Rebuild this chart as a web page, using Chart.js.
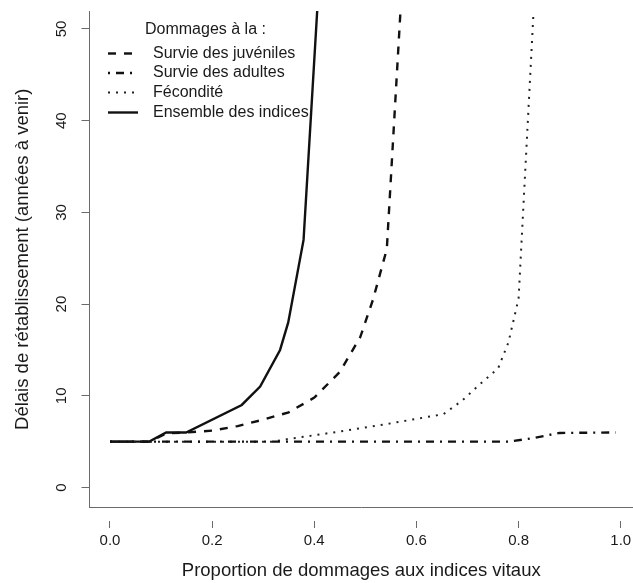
<!DOCTYPE html>
<html>
<head>
<meta charset="utf-8">
<script src="https://cdn.jsdelivr.net/npm/chart.js@4"></script>
<style>
  html, body { margin: 0; padding: 0; background: #fff; }
  #wrap { width: 633px; height: 583px; }
</style>
</head>
<body>
<div id="wrap"><canvas id="myChart"></canvas></div>
<script>
// tick labels
const xTicks = [0, 0.2, 0.4, 0.6, 0.8, 1.0];
const yTicks = [0, 10, 20, 30, 40, 50];

const legendTitle = 'Dommages à la :';
const seriesNames = ['Survie des juvéniles', 'Survie des adultes', 'Fécondité', 'Ensemble des indices'];

// series values
const juvX = [0, 0.077, 0.11, 0.15, 0.2, 0.25, 0.3, 0.35, 0.4, 0.45, 0.49, 0.515, 0.542, 0.575];
const juvY = [5, 5, 5.9, 6, 6.2, 6.7, 7.4, 8.2, 9.8, 12.6, 16.4, 20.5, 26, 58];

const adX = [0, 0.78, 0.83, 0.88, 0.99];
const adY = [5, 5, 5.4, 5.95, 6];

const fecX = [0, 0.32, 0.35, 0.45, 0.55, 0.653, 0.69, 0.725, 0.76, 0.78, 0.8, 0.835];
const fecY = [5, 5, 5.3, 6.1, 7.0, 8.0, 9.5, 11.3, 13, 15.8, 20.6, 58];

const allX = [0, 0.077, 0.11, 0.149, 0.258, 0.294, 0.333, 0.349, 0.379, 0.41];
const allY = [5, 5, 6, 6, 9, 11, 15, 18, 27, 56];

function pts(xs, ys) {
    return xs.map((x, i) => ({ x: x, y: ys[i] }));
}

const FONT = '"Liberation Sans", Arial, sans-serif';
const INK = '#1a1a1a';
const AXIS = '#6a6a6a';

Chart.defaults.font.family = FONT;
Chart.defaults.color = INK;

// R style legend drawn inside the plot
const legendPlugin = {
    id: 'rLegend',
    afterDraw(chart) {
        const ctx = chart.ctx;
        ctx.save();
        ctx.font = '16px ' + FONT;
        ctx.fillStyle = INK;
        ctx.textBaseline = 'middle';
        ctx.fillText(legendTitle, 145, 30);
        const rows = [53.5, 73, 92.5, 112.5];
        chart.data.datasets.forEach((ds, i) => {
            const y = rows[i];
            ctx.beginPath();
            ctx.setLineDash(ds.borderDash || []);
            ctx.lineWidth = ds.borderWidth;
            ctx.strokeStyle = ds.borderColor;
            ctx.moveTo(108, y);
            ctx.lineTo(138, y);
            ctx.stroke();
            ctx.setLineDash([]);
            ctx.fillText(ds.label, 153, y);
        });
        ctx.restore();
    }
};

const ctx = document.getElementById('myChart');

new Chart(ctx, {
    type: 'line',
    data: {
        datasets: [
            { label: seriesNames[0], data: pts(juvX, juvY), borderColor: '#111', borderWidth: 2.4, borderDash: [8, 8] },
            { label: seriesNames[1], data: pts(adX, adY), borderColor: '#111', borderWidth: 2.4, borderDash: [2, 6, 8, 6] },
            { label: seriesNames[2], data: pts(fecX, fecY), borderColor: '#222', borderWidth: 2, borderDash: [2, 6] },
            { label: seriesNames[3], data: pts(allX, allY), borderColor: '#111', borderWidth: 2.4 }
        ]
    },
    options: {
        responsive: true,
        maintainAspectRatio: false,
        animation: false,
        layout: { padding: { top: 11, right: 0, left: 0, bottom: 0 } },
        elements: { point: { radius: 0 }, line: { tension: 0, borderCapStyle: 'butt' } },
        plugins: { legend: { display: false }, tooltip: { enabled: false } },
        scales: {
            x: {
                type: 'linear',
                min: -0.0401,
                max: 1.024,
                afterBuildTicks: (s) => { s.ticks = xTicks.map(v => ({ value: v })); },
                afterFit: (s) => { s.height = 75.5; s.paddingLeft = 0; s.paddingRight = 0; },
                border: { display: true, color: AXIS, width: 1 },
                grid: {
                    drawOnChartArea: false,
                    drawTicks: true,
                    tickLength: 21,
                    tickColor: AXIS,
                    tickBorderDash: [0, 13, 7, 100]
                },
                ticks: {
                    padding: 3.5,
                    maxRotation: 0,
                    font: { size: 15 },
                    color: INK,
                    callback: (v) => Number(v).toFixed(1)
                },
                title: {
                    display: true,
                    text: 'Proportion de dommages aux indices vitaux',
                    font: { size: 18.5 },
                    color: INK,
                    padding: { top: 0, bottom: 1 }
                }
            },
            y: {
                type: 'linear',
                min: -2.18,
                max: 51.96,
                afterBuildTicks: (s) => { s.ticks = yTicks.map(v => ({ value: v })); },
                afterFit: (s) => { s.width = 89.5; s.paddingTop = 0; s.paddingBottom = 0; },
                border: { display: true, color: AXIS, width: 1 },
                grid: {
                    drawOnChartArea: false,
                    drawTicks: true,
                    tickLength: 8,
                    tickColor: AXIS
                },
                ticks: {
                    padding: 11.7,
                    minRotation: 90,
                    maxRotation: 90,
                    crossAlign: 'center',
                    font: { size: 15 },
                    color: INK
                },
                title: {
                    display: true,
                    text: 'Délais de rétablissement (années à venir)',
                    font: { size: 18.5 },
                    color: INK,
                    padding: { top: 12, bottom: 0 }
                }
            }
        }
    },
    plugins: [legendPlugin]
});
</script>
</body>
</html>
